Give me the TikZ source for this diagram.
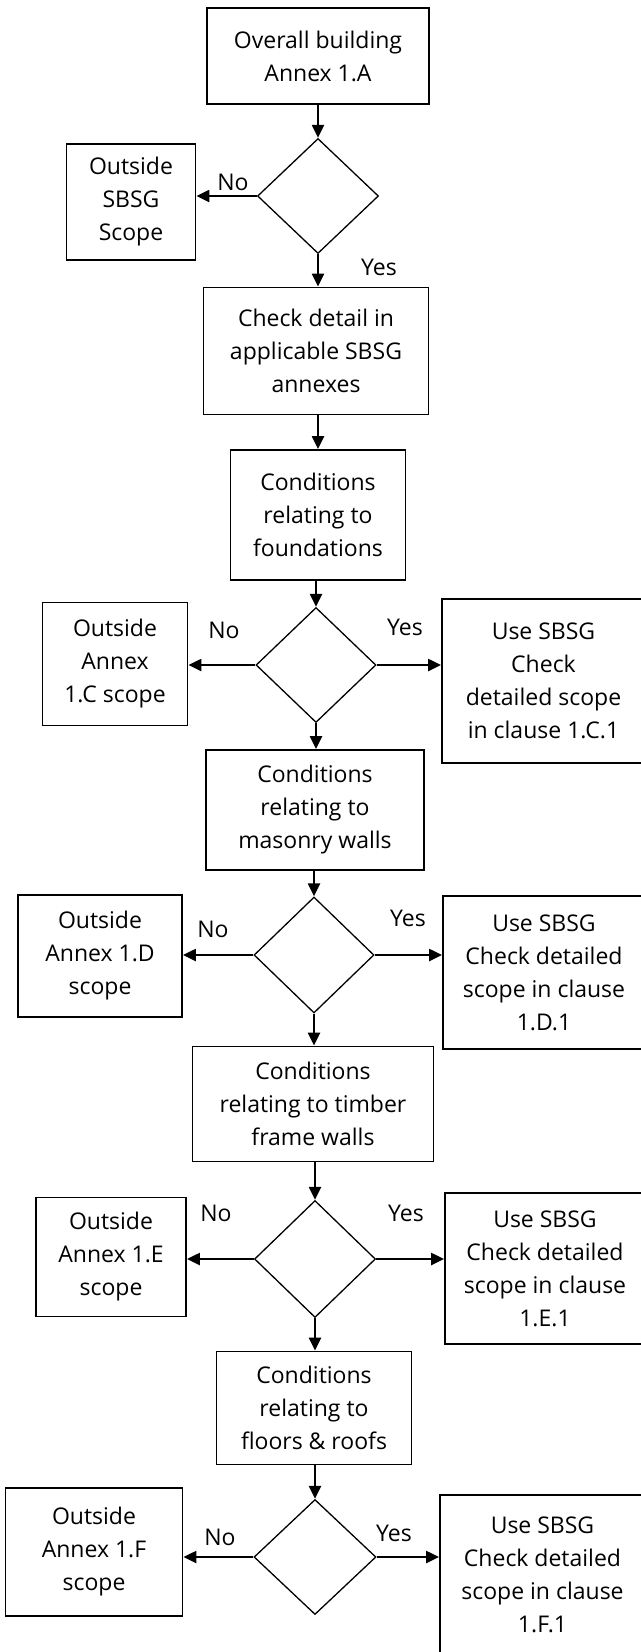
\documentclass[tikz,border=0pt]{standalone}
\usepackage{fontspec}
\setmainfont{Open Sans}
\usetikzlibrary{shapes.geometric,arrows.meta}
\tikzset{
  box/.style={draw, line width=1.8pt, inner sep=0pt, align=center,
    font=\fontsize{23}{33}\selectfont},
  dia/.style={draw, diamond, line width=1.3pt, inner sep=0pt},
  arr/.style={line width=2.2pt, -{Triangle[length=13pt,width=12pt]}},
  lab/.style={inner sep=0pt, font=\fontsize{23}{27}\selectfont}
}
\begin{document}
\begin{tikzpicture}[x=1pt,y=-1pt]
\useasboundingbox (0,0) rectangle (640,1652);
% main column
\node[box, minimum width=222pt, minimum height=96pt] (A) at (318,56) {Overall building\\Annex 1.A};
\node[dia, minimum width=121pt, minimum height=115pt] (D1) at (318,196) {};
\node[box, minimum width=129pt, minimum height=116pt] (O1) at (131,202) {Outside\\SBSG\\Scope};
\node[box, minimum width=225pt, minimum height=127pt] (B) at (316,351) {Check detail in\\applicable SBSG\\annexes};
\node[box, minimum width=175pt, minimum height=130pt] (F) at (318,515) {Conditions\\relating to\\foundations};
\node[dia, minimum width=120pt, minimum height=115pt] (D2) at (316,665) {};
\node[box, minimum width=145pt, minimum height=123pt] (OC) at (115,664) {Outside\\Annex\\1.C scope};
\node[box, minimum width=203pt, minimum height=164pt] (UC) at (543.5,681) {Use SBSG\\Check\\detailed scope\\in clause 1.C.1};
\node[box, minimum width=218pt, minimum height=120pt] (M) at (315,810) {Conditions\\relating to\\masonry walls};
\node[dia, minimum width=120pt, minimum height=116pt] (D3) at (314,955) {};
\node[box, minimum width=164pt, minimum height=122pt] (OD) at (100,956) {Outside\\Annex 1.D\\scope};
\node[box, minimum width=202pt, minimum height=153pt] (UD) at (544,972.5) {Use SBSG\\Check detailed\\scope in clause\\1.D.1};
\node[box, minimum width=241pt, minimum height=115pt] (T) at (313,1104) {Conditions\\relating to timber\\frame walls};
\node[dia, minimum width=121pt, minimum height=117pt] (D4) at (315,1259) {};
\node[box, minimum width=150pt, minimum height=119pt] (OE) at (111,1257) {Outside\\Annex 1.E\\scope};
\node[box, minimum width=200pt, minimum height=151pt] (UE) at (545,1268.5) {Use SBSG\\Check detailed\\scope in clause\\1.E.1};
\node[box, minimum width=195pt, minimum height=113pt] (R) at (314,1408) {Conditions\\relating to\\floors \& roofs};
\node[dia, minimum width=122pt, minimum height=115pt] (D5) at (315,1557) {};
\node[box, minimum width=177pt, minimum height=128pt] (OF) at (94,1552) {Outside\\Annex 1.F\\scope};
\node[box, minimum width=205pt, minimum height=160pt] (UF) at (542.5,1575) {Use SBSG\\Check detailed\\scope in clause\\1.F.1};
% labels
\node[lab] (n1) at (233,182) {No};
\node[lab] (y1) at (379,267) {Yes};
\node[lab] (n2) at (224,630) {No};
\node[lab] (y2) at (405,627) {Yes};
\node[lab] (n3) at (213,929) {No};
\node[lab] (y3) at (408,918) {Yes};
\node[lab] (n4) at (216,1213) {No};
\node[lab] (y4) at (406,1213) {Yes};
\node[lab] (n5) at (220,1537) {No};
\node[lab] (y5) at (394,1533) {Yes};
% connectors
\draw[arr] (A.south -| D1.north) -- (D1.north);
\draw[arr] (D1.west) -- (D1.west -| O1.east);
\draw[arr] (D1.south) -- (D1.south |- B.north);
\draw[arr] (B.south -| F.north) -- (F.north);
\draw[arr] (F.south -| D2.north) -- (D2.north);
\draw[arr] (D2.west) -- (D2.west -| OC.east);
\draw[arr] (D2.east) -- (D2.east -| UC.west);
\draw[arr] (D2.south) -- (D2.south |- M.north);
\draw[arr] (M.south -| D3.north) -- (D3.north);
\draw[arr] (D3.west) -- (D3.west -| OD.east);
\draw[arr] (D3.east) -- (D3.east -| UD.west);
\draw[arr] (D3.south) -- (D3.south |- T.north);
\draw[arr] (T.south -| D4.north) -- (D4.north);
\draw[arr] (D4.west) -- (D4.west -| OE.east);
\draw[arr] (D4.east) -- (D4.east -| UE.west);
\draw[arr] (D4.south) -- (D4.south |- R.north);
\draw[arr] (R.south -| D5.north) -- (D5.north);
\draw[arr] (D5.west) -- (D5.west -| OF.east);
\draw[arr] (D5.east) -- (D5.east -| UF.west);
\end{tikzpicture}
\end{document}
